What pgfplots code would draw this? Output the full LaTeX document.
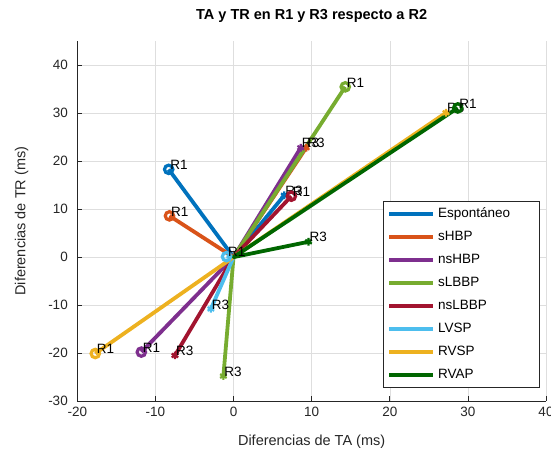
\documentclass[border=0pt]{standalone}
\usepackage{pgfplots}
\pgfplotsset{compat=1.18}
\usepackage{fontspec}
\setmainfont{Liberation Sans}

\definecolor{mblue}{rgb}{0,0.447,0.741}
\definecolor{morange}{rgb}{0.85,0.325,0.098}
\definecolor{mpurple}{rgb}{0.494,0.184,0.556}
\definecolor{mgreen}{rgb}{0.466,0.674,0.188}
\definecolor{mred}{rgb}{0.635,0.078,0.184}
\definecolor{mcyan}{rgb}{0.301,0.745,0.933}
\definecolor{myellow}{rgb}{0.929,0.694,0.125}
\definecolor{mdgreen}{rgb}{0,0.4,0}

\newcommand{\fs}{\fontsize{13.5}{16}\selectfont}
% color, R1 x, R1 y, R3 x, R3 y, name
\newcommand{\serie}[6]{%
  \addplot[#1, line width=3.8pt, line join=round] coordinates {(#2,#3)(0,0)(#4,#5)};
  \addlegendentry{\makebox[97pt][l]{#6}}
  \addplot[#1, only marks, mark=o, mark size=4.2pt, mark options={line width=3.2pt, fill=white},
    nodes near coords, point meta=explicit symbolic, forget plot] coordinates {(#2,#3)[R1]};
  \addplot[#1, only marks, mark=asterisk, mark size=3.8pt, mark options={line width=2.2pt},
    nodes near coords, point meta=explicit symbolic, forget plot] coordinates {(#4,#5)[R3]};
}

\begin{document}
\begin{tikzpicture}
\begin{axis}[
  name=ax,
  scale only axis, width=468.7pt, height=359.7pt,
  xmin=-20, xmax=40, ymin=-30, ymax=45,
  xtick={-20,-10,...,40}, ytick={-30,-20,...,40},
  axis lines=left, axis line style={-, draw=black!85, line width=0.6pt},
  tick align=inside, major tick length=5pt, tick style={black!85, line width=0.6pt},
  grid=major, grid style={black!13, line width=0.5pt},
  /pgf/number format/assume math mode=true,
  ticklabel style={font=\fs, text=black!85},
  yticklabel style={xshift=-6pt},
  xticklabel style={yshift=-3pt},
  title={\textbf{TA y TR en R1 y R3 respecto a R2}},
  title style={at={(axis description cs:0.5,1.0443)}, anchor=base, font=\fontsize{14.5}{17}\selectfont},
  xlabel={Diferencias de TA (ms)},
  xlabel style={at={(axis description cs:0.5,-0.1247)}, anchor=base, font=\fontsize{14.5}{17}\selectfont, text=black!85},
  ylabel={Diferencias de TR (ms)},
  ylabel style={at={(axis description cs:-0.111,0.5)}, anchor=base, font=\fontsize{14.5}{17}\selectfont, text=black!85},
  every node near coord/.style={anchor=west, inner sep=0pt, yshift=4.5pt, font=\fs, text=black},
  legend style={at={(0.652,0.555)}, anchor=north west, draw=black!85, line width=0.6pt,
    fill=white, font=\fs, inner xsep=4pt, inner ysep=6pt, row sep=10pt,
    nodes={inner sep=0pt, text height=10pt, text depth=3pt}},
  legend cell align=left,
  legend image code/.code={\draw[line width=4pt] (0pt,0pt) -- (44pt,0pt);},
  /tikz/every odd column/.append style={column sep=3pt},
]
\serie{mblue}{-8.3}{18.3}{6.5}{12.9}{Espontáneo}
\serie{morange}{-8.2}{8.6}{9.3}{22.8}{sHBP}
\serie{mpurple}{-11.8}{-19.8}{8.6}{22.8}{nsHBP}
\serie{mgreen}{14.3}{35.5}{-1.3}{-24.8}{sLBBP}
\serie{mred}{7.4}{12.7}{-7.5}{-20.5}{nsLBBP}
\serie{mcyan}{-0.9}{0.1}{-2.9}{-10.8}{LVSP}
\serie{myellow}{-17.7}{-20.1}{27.2}{30.1}{RVSP}
\serie{mdgreen}{28.7}{31.1}{9.6}{3.2}{RVAP}
\end{axis}
\pgfresetboundingbox
\path ([xshift=-77.3pt,yshift=-49pt]ax.south west) rectangle ([xshift=5pt,yshift=41.3pt]ax.north east);
\end{tikzpicture}
\end{document}
